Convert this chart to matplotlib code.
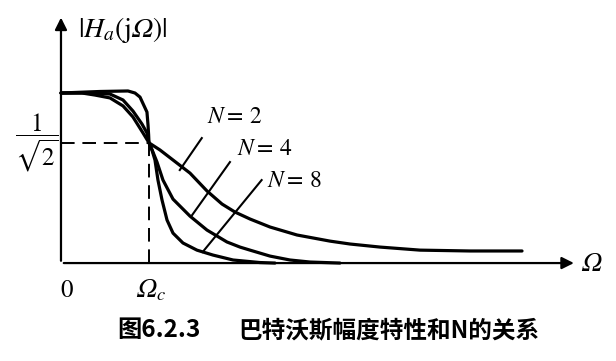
import matplotlib
matplotlib.use("Agg")
import matplotlib.pyplot as plt

# STIX for the math; 'bf' is pointed at the italic face so \mathbf{\Omega} gives a slanted Omega
plt.rcParams['mathtext.fontset'] = 'custom'
plt.rcParams['mathtext.rm'] = 'STIXGeneral'
plt.rcParams['mathtext.it'] = 'STIXGeneral:italic'
plt.rcParams['mathtext.bf'] = 'STIXGeneral:italic'
plt.rcParams['mathtext.fallback'] = 'stix'
plt.rcParams['font.family'] = ['Noto Sans CJK SC', 'DejaVu Sans']

#
# Curve data (x in units of Omega_c, y = |Ha|)
#
n2_x = [0, 0.239, 0.386, 0.557, 0.705, 0.818, 0.932, 1.0, 1.125, 1.273, 1.466, 1.659,
        1.830, 1.977, 2.148, 2.375, 2.682, 3.057, 3.284, 3.625, 4.080, 4.648, 5.239]
n2_y = [1.0, 1.0, 0.988, 0.971, 0.924, 0.859, 0.765, 0.707, 0.665, 0.606, 0.529, 0.424,
        0.347, 0.300, 0.259, 0.212, 0.165, 0.129, 0.112, 0.094, 0.076, 0.071, 0.071]

n4_x = [0, 0.330, 0.557, 0.705, 0.818, 0.920, 0.977, 1.0, 1.045, 1.091, 1.159, 1.273,
        1.466, 1.659, 1.886, 2.034, 2.148, 2.375, 2.602, 2.830, 3.170]
n4_y = [1.0, 1.0, 0.994, 0.959, 0.894, 0.818, 0.765, 0.707, 0.653, 0.594, 0.488, 0.376,
        0.276, 0.194, 0.124, 0.094, 0.076, 0.041, 0.018, 0.006, 0.0]

n8_x = [0, 0.443, 0.761, 0.841, 0.898, 0.977, 0.989, 0.996, 1.0, 1.034, 1.068, 1.102,
        1.148, 1.205, 1.273, 1.386, 1.545, 1.727, 1.955, 2.261, 2.432]
n8_y = [1.0, 1.009, 1.012, 1.0, 0.976, 0.888, 0.812, 0.753, 0.707, 0.665, 0.606, 0.488,
        0.371, 0.253, 0.176, 0.118, 0.076, 0.047, 0.018, 0.003, 0.0]

cutoff = 1.0
half_power = 0.707

labels = ['$N=\\,2$', '$N=\\,4$', '$N=\\,8$']

# Create the figure
fig = plt.figure(figsize=(6.16, 3.61), dpi=100)
ax = fig.add_axes([0, 0, 1, 1])
ax.set_xlim(-0.693, 6.307)
ax.set_ylim(-0.576, 1.547)
ax.axis('off')

# Axes with arrows
ax.annotate('', xy=(5.86, 0), xytext=(0, 0),
            arrowprops=dict(arrowstyle='-|>', color='k', lw=1.6, mutation_scale=18))
ax.annotate('', xy=(0, 1.46), xytext=(0, -0.003),
            arrowprops=dict(arrowstyle='-|>', color='k', lw=1.6, mutation_scale=18))

# Dashed guide lines
ax.plot([0, cutoff], [half_power, half_power], 'k', lw=1.4, dashes=(7, 4))
ax.plot([cutoff, cutoff], [0, half_power], 'k', lw=1.4, dashes=(7, 4))

# The three curves
for xs, ys in [(n2_x, n2_y), (n4_x, n4_y), (n8_x, n8_y)]:
    ax.plot(xs, ys, 'k', lw=2.3, solid_capstyle='round', solid_joinstyle='round')

# Leader lines and labels
label_pos = [(1.66, 0.86), (2.0, 0.676), (2.34, 0.488)]
leader = [((1.6, 0.735), (1.35, 0.547)),
          ((1.92, 0.594), (1.49, 0.282)),
          ((2.28, 0.488), (1.61, 0.065))]
for lab, pos, (p0, p1) in zip(labels, label_pos, leader):
    ax.plot([p0[0], p1[0]], [p0[1], p1[1]], 'k', lw=1.5)
    ax.text(pos[0], pos[1], lab, fontsize=17, ha='left', va='center')

# Axis texts
ax.text(0.19, 1.37, '$|H_a(\\mathrm{j}\\mathbf{\\Omega})|$', fontsize=20, ha='left', va='center')
ax.text(-0.27, half_power, '$\\dfrac{1}{\\sqrt{2}}$', fontsize=18, ha='center', va='center')
ax.text(0.07, -0.16, '$0$', fontsize=18, ha='center', va='center')
ax.text(1.03, -0.16, '$\\mathbf{\\Omega}_c$', fontsize=19, ha='center', va='center')
ax.text(6.03, 0.0, '$\\mathbf{\\Omega}$', fontsize=19, ha='center', va='center')

# Caption
fig.text(117 / 616, 0.086, '图6.2.3', fontsize=17.5, fontweight='bold', ha='left', va='center')
fig.text(238 / 616, 0.086, '巴特沃斯幅度特性和N的关系', fontsize=17, fontweight='bold',
         ha='left', va='center')

fig.savefig('out.png', dpi=100)
